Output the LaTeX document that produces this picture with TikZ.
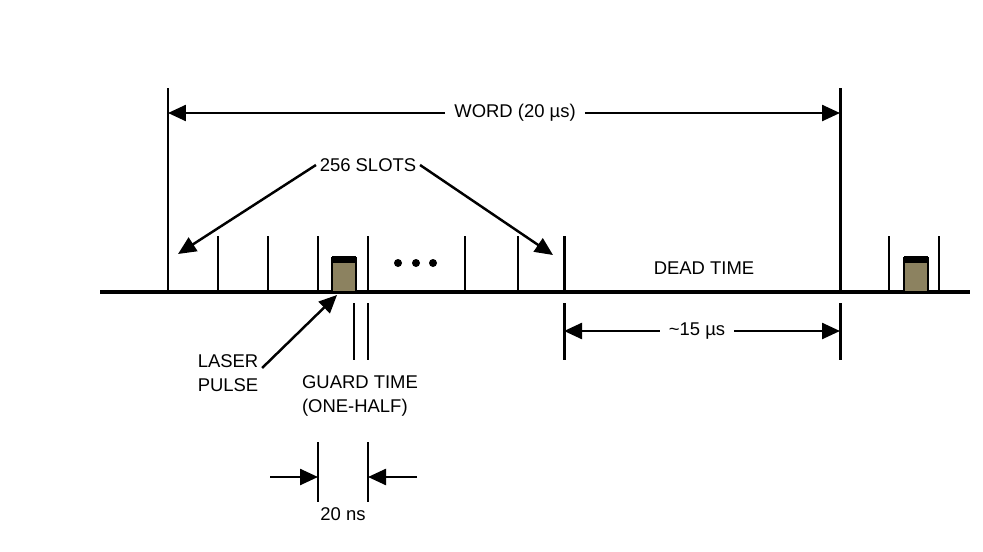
\documentclass[tikz,border=0pt]{standalone}
\usepackage{fontspec}
\setmainfont{Liberation Sans}
\usetikzlibrary{arrows.meta}
\definecolor{pulsefill}{RGB}{140,130,96}

\begin{document}
\begin{tikzpicture}[x=0.02cm,y=-0.02cm,
            axis/.style={line width=2.8pt},
            bigtick/.style={line width=1.7pt},
            slottick/.style={line width=1.2pt},
            dimline/.style={line width=1.4pt,-{Triangle[length=0.36cm,width=0.32cm]}},
            lbl/.style={font=\fontsize{10.5}{14}\selectfont,inner sep=5pt}]
            \useasboundingbox (0,0) rectangle (983,551);
            % time axis
            \draw[axis] (100,292) -- (970,292);
            % word boundaries
            \draw[bigtick] (168,88) -- (168,292);
            \draw[bigtick] (840,88) -- (840,292);
            % slots
            \foreach \x in {218,268,318,368,465,518}
                \draw[slottick] (\x,236) -- (\x,292);
            \draw[bigtick] (564,236) -- (564,292);
            \foreach \x in {889,939}
                \draw[slottick] (\x,236) -- (\x,292);
            \foreach \x in {398,416,433}
                \fill (\x,263) circle (4);
            % laser pulses
            \foreach \x in {332,904}
            {
                \filldraw[fill=pulsefill,draw=black,line width=0.6pt] (\x,258) rectangle (\x+24,292);
                \fill (\x,256) rectangle (\x+24,263);
            }
            % labels
            \node[lbl] (word) at (515,113) {WORD (20 µs)};
            \node[lbl,inner sep=2pt] (slots) at (368,165) {256 SLOTS};
            \node[lbl] (dead) at (704,268) {DEAD TIME};
            \node[lbl] (rest) at (697,331) {\textasciitilde15 µs};
            \node[lbl,align=left,inner sep=2pt] (laser) at (228,373) {LASER\\PULSE};
            \node[lbl,align=left,inner sep=2pt] (guard) at (360,396) {GUARD TIME\\(ONE-HALF)};
            \node[lbl,inner sep=2pt] (slotw) at (343,514) {20 ns};
            % end points
            \coordinate (wl) at (168,113);
            \coordinate (wr) at (840,113);
            \coordinate (sl) at (178,254);
            \coordinate (sr) at (553,255);
            \coordinate (lp) at (337,295);
            \coordinate (dl) at (564,331);
            \coordinate (dr) at (840,331);
            \coordinate (gl) at (318,477);
            \coordinate (gr) at (368,477);
            \coordinate (gla) at (270,477);
            \coordinate (gra) at (417,477);
            % arrows
            \draw[dimline] (word.west) -- (wl);
            \draw[dimline] (word.east) -- (wr);
            \draw[dimline] (slots.west) -- (sl);
            \draw[dimline] (slots.east) -- (sr);
            \draw[dimline] ([yshift=0.1cm]laser.east) -- (lp);
            \draw[dimline] (rest.west) -- (dl);
            \draw[dimline] (rest.east) -- (dr);
            \draw[dimline] (gla) -- (gl);
            \draw[dimline] (gra) -- (gr);
            % extension lines
            \draw[bigtick] (564,303) -- (564,360);
            \draw[bigtick] (840,303) -- (840,360);
            \draw[slottick] (354,303) -- (354,360);
            \draw[slottick] (368,303) -- (368,360);
            \draw[slottick] (318,442) -- (318,502);
            \draw[slottick] (368,442) -- (368,502);
\end{tikzpicture}
\end{document}
